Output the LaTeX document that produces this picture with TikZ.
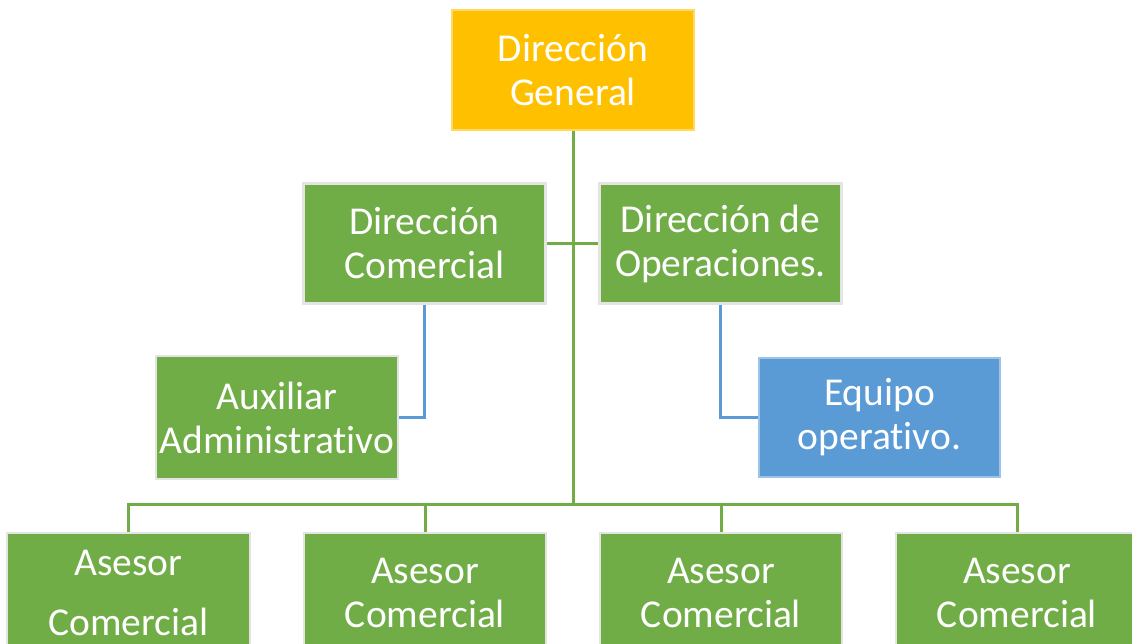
\documentclass[tikz,border=0pt]{standalone}
\usepackage{fontspec}
\setmainfont{Carlito}[Ligatures={NoCommon}]
\definecolor{cgreen}{HTML}{70AD47}
\definecolor{corange}{HTML}{FFC000}
\definecolor{cblue}{HTML}{5B9BD5}
\definecolor{cedge}{HTML}{E4E4E4}
\tikzset{
  box/.style={rectangle, draw=cedge, line width=2.5pt, text=white, align=center,
    minimum width=242pt, minimum height=120pt, inner sep=0pt,
    font=\fontsize{39.5}{44}\selectfont},
  gbox/.style={box, fill=cgreen},
  obox/.style={box, fill=corange, draw=corange!60!white, line width=1.2pt},
  bbox/.style={box, fill=cblue, draw=cblue!60!white, line width=1.2pt},
  gline/.style={draw=cgreen, line width=3pt},
  bline/.style={draw=cblue, line width=3pt}
}
\begin{document}
\begin{tikzpicture}[x=1pt,y=-1pt]
\useasboundingbox (0,0) rectangle (1132,644);
\clip (0,0) rectangle (1132,644);
\node[obox] (dg) at (573,70) {Dirección\\General};
\node[gbox] (dc) at (424.5,243.5) {Dirección\\Comercial};
\node[gbox] (do) at (720.5,243.5) {Dirección de\\Operaciones.};
\node[gbox, minimum height=123pt] (aux) at (277,417.5) {Auxiliar\\Administrativo};
\node[bbox, minimum width=241pt, minimum height=119pt] (eq) at (879.5,417.5) {Equipo\\operativo.};
\node[gbox, minimum width=243pt, font=\fontsize{39.5}{60}\selectfont] (a1) at (128.5,593) {Asesor\\Comercial};
\node[gbox] (a2) at (425,593) {Asesor\\Comercial};
\node[gbox] (a3) at (721,593) {Asesor\\Comercial};
\node[gbox] (a4) at (1017,593) {Asesor\\Comercial};
\coordinate (bar) at (573,504);
% trunk
\draw[gline] (dg.south) -- (bar);
\draw[gline] (dc.east) -- (do.west);
% assistants
\draw[bline] (dc.south) |- (aux.east);
\draw[bline] (do.south) |- (eq.west);
% bottom bar
\draw[gline] (a1.north) |- (bar);
\draw[gline] (a2.north) |- (bar);
\draw[gline] (a3.north) |- (bar);
\draw[gline] (a4.north) |- (bar);
\end{tikzpicture}
\end{document}
